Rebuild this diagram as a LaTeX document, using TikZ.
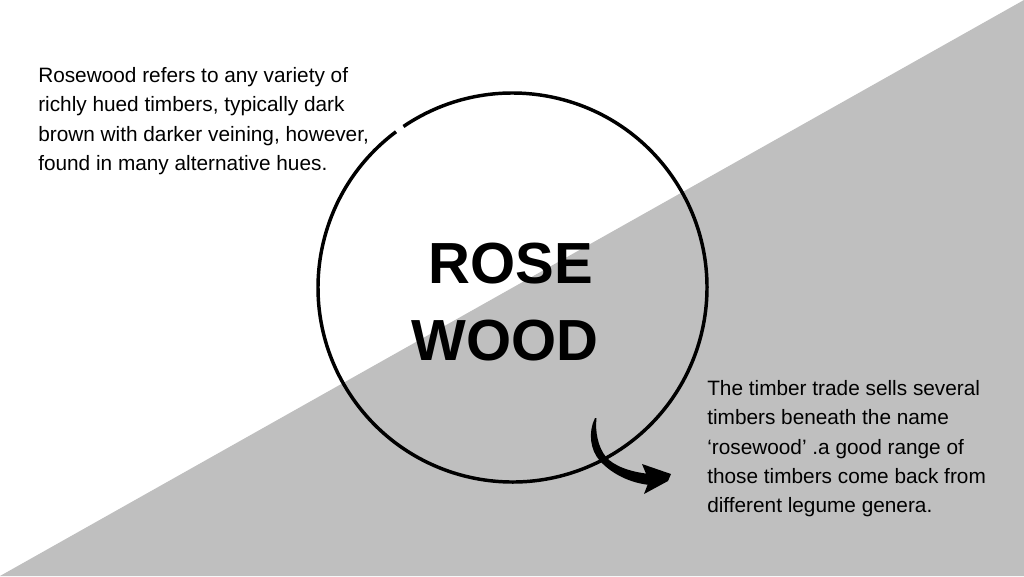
\documentclass[tikz,border=0pt]{standalone}
\usepackage{fontspec}
\setmainfont{Liberation Sans}
\usepackage{tikz}
\usetikzlibrary{positioning}
\definecolor{bgGray}{RGB}{191,191,191}
\tikzset{
  bodytext/.style={anchor=north west, align=left, inner sep=0pt, font=\fontsize{15.6}{22}\selectfont},
  titletext/.style={anchor=base, inner sep=0pt, font=\fontsize{43.5}{57.75}\selectfont\bfseries}
}

\begin{document}
\begin{tikzpicture}[x=0.75pt,y=0.75pt,yscale=-1,xscale=1]
%set diagram left start at 0, and has height of 576
\path[use as bounding box, fill=white] (0,0) rectangle (1024,576);

%Shape: Right Triangle
\fill[bgGray] (0,576) -- (1024,0) -- (1024,576) -- cycle;

%Shape: Arc
\coordinate (hub) at (512.5,287.5);
\draw[line width=2.6pt] (hub) ++(235.9:194.5) arc[start angle=235.9, end angle=593.2, radius=194.5];

%Curve Lines
\fill (595,418) .. controls (588,432) and (590,450) .. (600,461) .. controls (612,474) and (630,483) .. (650,485) -- (650,474) .. controls (630,472) and (614,466) .. (606,457) .. controls (598,447) and (595,432) .. (596.5,418) -- cycle;
\fill (642,464) -- (671,474) -- (668,481) -- (644,494) -- (649,481) -- cycle;

% Text Node
\node (intro) [bodytext] at (38,67) {Rosewood refers to any variety of\\richly hued timbers, typically dark\\brown with darker veining, however,\\found in many alternative hues.};
% Text Node
\node (trade) [bodytext] at (707,380) {The timber trade sells several\\timbers beneath the name\\‘rosewood’ .a good range of\\those timbers come back from\\different legume genera.};
% Text Node
\node (rose) [titletext] at (511,283) {ROSE};
% Text Node
\node (wood) [titletext] at (505,360) {WOOD};

\end{tikzpicture}
\end{document}
